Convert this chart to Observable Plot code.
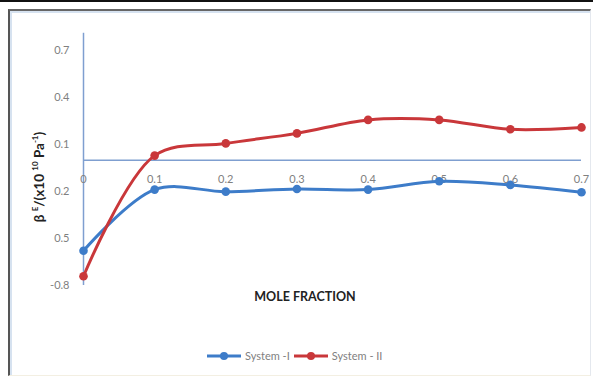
<!DOCTYPE html>
<html>
<head>
<meta charset="utf-8">
<script src="https://cdn.jsdelivr.net/npm/d3@7"></script>
<script src="https://cdn.jsdelivr.net/npm/@observablehq/plot@0.6"></script>
<style>
  body { margin: 0; background: #fff; }
  #wrap { position: relative; width: 593px; height: 379px; overflow: hidden; font-family: Lato, "Open Sans", sans-serif; background: #fff; }
  #topbar { position: absolute; left: 0; top: 0; width: 593px; height: 2px; background: #111; }
  #frame { position: absolute; left: 8px; top: 9px; width: 580px; height: 364px;
           border-left: 2px solid #555; border-top: 2px solid #666; border-right: 1px solid #e4e8ee; border-bottom: 1px solid #f3efe2;
           box-shadow: inset 2px 2px 0 #d6e2f0; }
  #chart { position: absolute; left: 0; top: 0; }
  #xtitle { position: absolute; left: 0; width: 610px; top: 289px; text-align: center; font-weight: bold; font-size: 12.5px; color: #222; }
  #ytitle { position: absolute; left: 38px; top: 177px; transform: translate(-50%, -50%) rotate(-90deg); white-space: nowrap;
            font-weight: bold; font-size: 13.5px; color: #222; }
  #ytitle sup { font-size: 8px; vertical-align: 6px; }
  #legend { position: absolute; left: 207px; top: 349px; display: flex; align-items: center; font-size: 11px; color: #7f7f7f; }
  #legend .item { display: flex; align-items: center; margin-right: 4px; }
  #legend svg { margin-right: 4px; }
</style>
</head>
<body>
<div id="wrap">
  <div id="topbar"></div>
  <div id="frame"></div>
  <div id="chart"></div>
  <div id="xtitle">MOLE FRACTION</div>
  <div id="ytitle">β <sup>E</sup>/(x10 <sup>10</sup> Pa<sup>-1</sup>)</div>
  <div id="legend"></div>
</div>
<script>
// Mole fractions and excess compressibility of the two systems
const moleFraction = [0, 0.1, 0.2, 0.3, 0.4, 0.5, 0.6, 0.7];
const systemI  = [-0.578, -0.188, -0.201, -0.184, -0.188, -0.135, -0.158, -0.205];
const systemII = [-0.741, 0.029, 0.107, 0.171, 0.257, 0.257, 0.197, 0.209];
const seriesNames = ["System -I", "System - II"];
const seriesColors = ["#3d7cc9", "#c9373a"];

// Axis tick values and the labels printed beside them
const yTicks = [0.7, 0.4, 0.1, -0.2, -0.5, -0.8];
const yTickLabels = ["0.7", "0.4", "0.1", "0.2", "0.5", "-0.8"];
const xTickLabels = ["0", "0.1", "0.2", "0.3", "0.4", "0.5", "0.6", "0.7"];

const rows = [];
[systemI, systemII].forEach((vals, s) => {
  vals.forEach((v, i) => rows.push({x: moleFraction[i], y: v, series: seriesNames[s]}));
});
const xTicks = moleFraction.map((x, i) => ({x, label: xTickLabels[i]}));

const axisColor = "#7f9fd0";
const tickColor = "#808080";

const plot = Plot.plot({
  width: 593,
  height: 379,
  marginLeft: 83,
  marginRight: 12,
  marginTop: 50,
  marginBottom: 94,
  style: {background: "transparent", fontFamily: "Lato, 'Open Sans', sans-serif"},
  x: {domain: [0, 0.7], axis: null},
  y: {domain: [-0.8, 0.7], axis: null},
  color: {domain: seriesNames, range: seriesColors},
  marks: [
    // vertical axis line, running above the top tick
    Plot.ruleX([0], {y1: -0.8, y2: 0.81, stroke: axisColor, strokeWidth: 1.5}),
    // horizontal axis line at zero
    Plot.ruleY([0], {x1: 0, x2: 0.7, stroke: axisColor, strokeWidth: 1.5}),
    Plot.axisY(yTicks, {
      tickSize: 0, tickPadding: 14, fontSize: 11, fill: tickColor, label: null,
      tickFormat: (d) => yTickLabels[yTicks.indexOf(d)]
    }),
    Plot.text(xTicks, {x: "x", y: () => 0, dy: 19, text: "label", fontSize: 11, fill: tickColor}),
    Plot.line(rows, {x: "x", y: "y", z: "series", stroke: "series", strokeWidth: 3, curve: "catmull-rom"}),
    Plot.dot(rows, {x: "x", y: "y", fill: "series", r: 4.3, symbol: "circle"})
  ]
});
document.getElementById("chart").appendChild(plot);

// Legend: line sample with a marker, then the series name
const legend = document.getElementById("legend");
seriesNames.forEach((name, i) => {
  const item = document.createElement("div");
  item.className = "item";
  item.innerHTML =
    `<svg width="34" height="10"><line x1="0" y1="5" x2="34" y2="5" stroke="${seriesColors[i]}" stroke-width="3"/>` +
    `<circle cx="17" cy="5" r="4" fill="${seriesColors[i]}"/></svg><span>${name}</span>`;
  legend.appendChild(item);
});
</script>
</body>
</html>
